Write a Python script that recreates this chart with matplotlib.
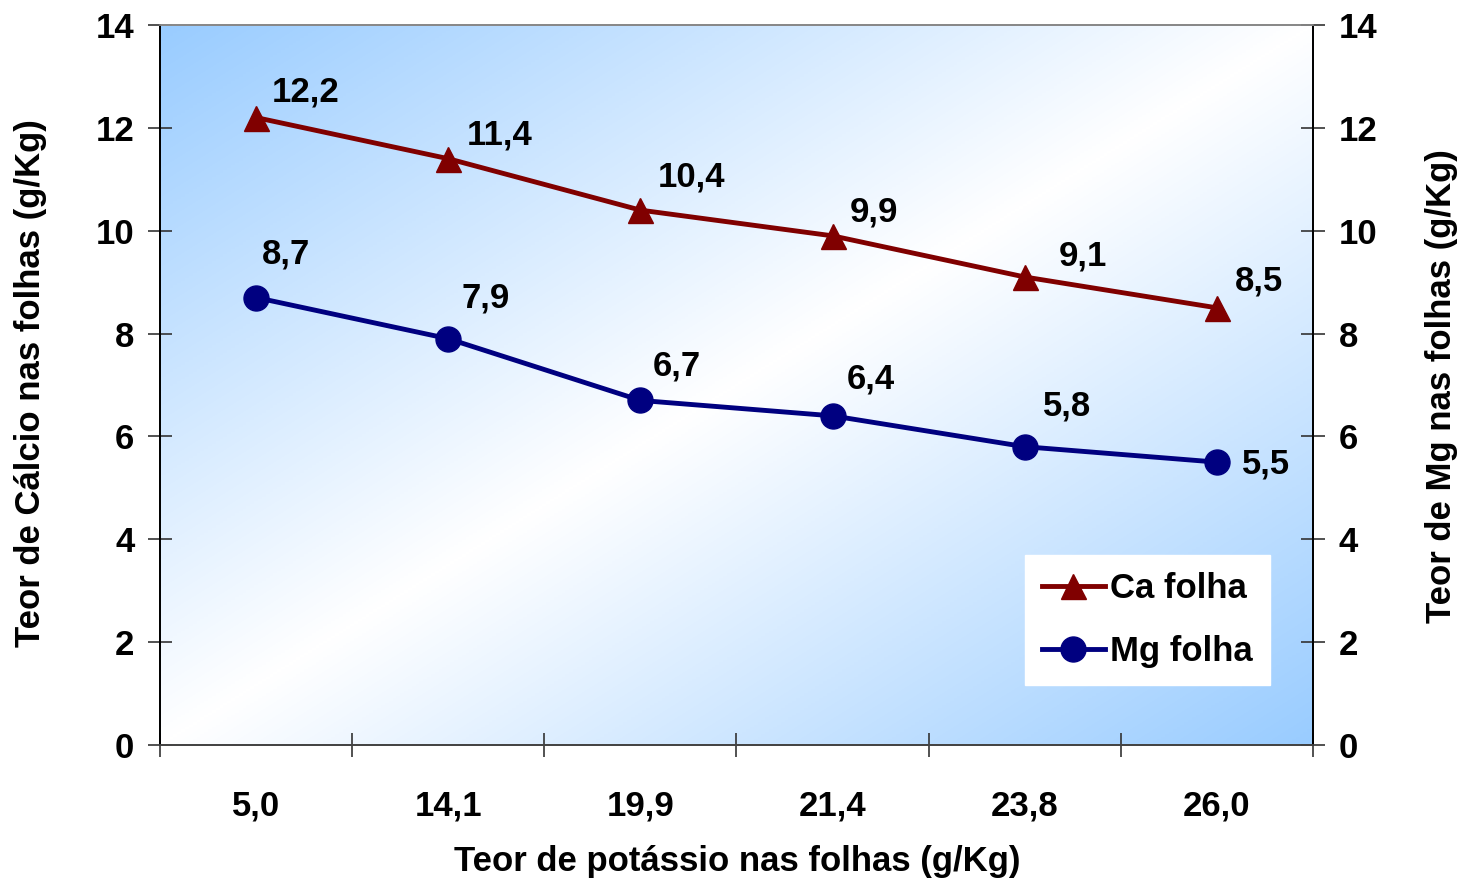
import numpy as np
import matplotlib.pyplot as plt
from matplotlib.colors import LinearSegmentedColormap

plt.rcParams['font.family'] = ['Liberation Sans', 'DejaVu Sans']
plt.rcParams['font.weight'] = 'bold'

# teor de K nas folhas (categorias) e teores de Ca e Mg
potassio = ['5,0', '14,1', '19,9', '21,4', '23,8', '26,0']
ca_folha = [12.2, 11.4, 10.4, 9.9, 9.1, 8.5]
mg_folha = [8.7, 7.9, 6.7, 6.4, 5.8, 5.5]

# deslocamento dos rótulos (pixels)
ca_off = [(16, 9), (18, 7), (17, 17), (17, 7), (34, 4), (18, 10)]
mg_off = [(6, 27), (13, 24), (12, 18), (14, 20), (18, 24), (25, -18)]

FS = 25

fig = plt.figure(figsize=(14.6, 8.83), dpi=100)
ax = fig.add_axes([0.1096, 0.1563, 0.7897, 0.8154])

# fundo em degradê diagonal
fx, fy = np.meshgrid(np.linspace(0, 1, 300), np.linspace(0, 1, 300))
grad = np.abs(fx - fy)
cmap = LinearSegmentedColormap.from_list('fundo', ['#ffffff', '#99ccff'])
ax.imshow(grad, cmap=cmap, extent=[0, 1, 0, 1], transform=ax.transAxes,
          origin='lower', aspect='auto', zorder=0, interpolation='bilinear')

x = np.arange(len(potassio))
ax.plot(x, ca_folha, color='#800000', lw=3.5, marker='^', ms=18,
        label='Ca folha', zorder=3)
ax.plot(x, mg_folha, color='#000080', lw=3.5, marker='o', ms=18,
        label='Mg folha', zorder=3)

def fmt(v):
    return f'{v:.1f}'.replace('.', ',')

for xi, v, (dx, dy) in zip(x, ca_folha, ca_off):
    ax.annotate(fmt(v), (xi, v), xytext=(dx, dy), textcoords='offset pixels',
                ha='left', va='bottom', fontsize=FS, zorder=4)
for xi, v, (dx, dy) in zip(x, mg_folha, mg_off):
    ax.annotate(fmt(v), (xi, v), xytext=(dx, dy), textcoords='offset pixels',
                ha='left', va='bottom', fontsize=FS, zorder=4)

ax.set_xlim(-0.5, 5.5)
ax.set_ylim(0, 14)
ax.set_xticks(x)
ax.set_xticklabels(potassio, fontsize=FS)
ax.set_xticks(np.arange(-0.5, 6, 1), minor=True)
ax.tick_params(axis='x', which='major', length=0, pad=32)
ax.tick_params(axis='x', which='minor', direction='inout', length=17,
               width=1.2, color='#333333')
ax.set_yticks(range(0, 15, 2))
ax.tick_params(axis='y', direction='inout', length=17, width=1.2,
               color='#333333', labelsize=FS, pad=10)

ax2 = ax.twinx()
ax2.set_ylim(0, 14)
ax2.set_yticks(range(0, 15, 2))
ax2.tick_params(axis='y', direction='inout', length=17, width=1.2,
                color='#333333', labelsize=FS, pad=10)

for a in (ax, ax2):
    a.spines['left'].set_color('black')
    a.spines['right'].set_color('black')
    a.spines['bottom'].set_color('#444444')
    a.spines['top'].set_color('#888888')
    for s in a.spines.values():
        s.set_linewidth(1.3)

leg = ax.legend(loc='upper left', bbox_to_anchor=(0.750, 0.264), fontsize=FS,
                frameon=True, fancybox=False, framealpha=1, edgecolor='white',
                borderaxespad=0, handlelength=1.8, handletextpad=0.15,
                borderpad=0.5, labelspacing=0.85)
leg.set_zorder(5)

fig.text(31 / 1460, 1 - 383 / 883, 'Teor de Cálcio nas folhas (g/Kg)',
         rotation=90, ha='center', va='center', fontsize=FS)
fig.text(1441 / 1460, 1 - 386 / 883, 'Teor de Mg nas folhas (g/Kg)',
         rotation=90, ha='center', va='center', fontsize=FS)
fig.text(737 / 1460, 1 - 862 / 883, 'Teor de potássio nas folhas (g/Kg)',
         ha='center', va='center', fontsize=FS)

fig.savefig('out.png', dpi=100, facecolor='white')
